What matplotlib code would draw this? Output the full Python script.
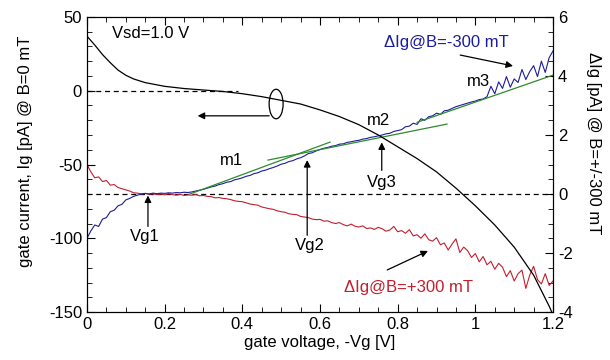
import numpy as np
import matplotlib
matplotlib.use("Agg")
import matplotlib.pyplot as plt
from matplotlib.patches import Ellipse
from matplotlib.ticker import MultipleLocator, FuncFormatter

plt.rcParams["font.family"] = ["Liberation Sans", "DejaVu Sans"]
plt.rcParams["axes.unicode_minus"] = False

# ── data ──────────────────────────────────────────────────────────────────────
# gate current at B = 0 (left axis, pA)
vg_b0 = [0.00, 0.02, 0.04, 0.06, 0.08, 0.10, 0.12, 0.15, 0.20, 0.25, 0.30, 0.35,
         0.40, 0.45, 0.50, 0.55, 0.60, 0.65, 0.70, 0.75, 0.80, 0.85, 0.90, 0.95,
         1.00, 1.05, 1.10, 1.15, 1.19, 1.20]
ig_b0 = [37.0, 31.0, 24.5, 19.0, 14.0, 10.5, 8.0, 5.5, 3.0, 1.5, 0.5, -0.5,
         -2.0, -4.0, -6.5, -9.0, -13.0, -17.5, -23.0, -30.0, -38.0, -46.0, -55.0, -66.0,
         -78.0, -91.0, -106.0, -125.0, -146.0, -152.0]

# delta Ig (right axis, pA), sampled every 10 mV
vg = np.round(np.arange(0, 121) * 0.01, 2)
d_minus = [
    -1.50, -1.25, -1.05, -1.10, -0.85, -0.80, -0.60, -0.55, -0.40, -0.35,
    -0.20, -0.15, -0.08, -0.04, 0.00, 0.02, 0.00, 0.03, 0.01, 0.03,
    0.02, 0.04, 0.03, 0.05, 0.04, 0.06, 0.05, 0.07, 0.10, 0.13,
    0.16, 0.20, 0.24, 0.27, 0.32, 0.35, 0.40, 0.42, 0.48, 0.51,
    0.55, 0.60, 0.63, 0.69, 0.72, 0.78, 0.81, 0.86, 0.90, 0.95,
    1.01, 1.04, 1.10, 1.13, 1.19, 1.23, 1.29, 1.37, 1.40, 1.46,
    1.51, 1.55, 1.58, 1.62, 1.64, 1.69, 1.70, 1.75, 1.77, 1.80,
    1.82, 1.86, 1.88, 1.92, 1.94, 1.97, 2.00, 2.04, 2.06, 2.12,
    2.15, 2.18, 2.28, 2.30, 2.40, 2.36, 2.55, 2.50, 2.62, 2.65,
    2.74, 2.70, 2.82, 2.84, 2.90, 2.96, 3.00, 3.04, 3.08, 3.12,
    3.15, 3.20, 3.22, 3.30, 3.65, 3.40, 3.80, 3.58, 3.98, 3.62,
    3.90, 3.78, 4.22, 3.88, 4.15, 4.35, 3.98, 4.50, 4.12, 4.62,
    4.85,
]
d_plus = [
    1.00, 0.75, 0.55, 0.58, 0.42, 0.46, 0.30, 0.32, 0.22, 0.18,
    0.14, 0.10, 0.04, 0.03, 0.00, 0.02, -0.01, 0.01, -0.02, 0.00,
    -0.03, 0.01, -0.02, -0.04, -0.01, -0.05, -0.03, -0.04, -0.02, -0.06,
    -0.05, -0.08, -0.09, -0.13, -0.12, -0.15, -0.16, -0.19, -0.23, -0.25,
    -0.26, -0.30, -0.34, -0.36, -0.38, -0.44, -0.47, -0.50, -0.52, -0.57,
    -0.60, -0.62, -0.67, -0.69, -0.70, -0.76, -0.78, -0.80, -0.85, -0.87,
    -0.86, -0.92, -0.91, -0.97, -1.00, -0.97, -1.04, -1.08, -1.02, -1.09,
    -1.12, -1.08, -1.17, -1.15, -1.20, -1.13, -1.18, -1.26, -1.22, -1.10,
    -1.28, -1.24, -1.33, -1.21, -1.42, -1.38, -1.50, -1.35, -1.55, -1.60,
    -1.48, -1.72, -1.66, -1.90, -1.70, -1.52, -1.98, -1.80, -1.92, -2.15,
    -2.02, -2.30, -2.12, -2.40, -2.28, -2.55, -2.35, -2.48, -2.80, -2.60,
    -2.95, -2.70, -2.58, -3.20, -2.75, -2.45, -2.90, -3.05, -2.70, -3.10,
    -2.95,
]

# linear fits m1, m2, m3 (right axis)
fit_x = {"m1": [0.265, 0.626], "m2": [0.466, 0.927], "m3": [0.85, 1.20]}
fit_y = {"m1": [0.00, 1.76], "m2": [1.15, 2.37], "m3": [2.43, 4.03]}

BLUE = "#1c1c9c"
RED = "#c41e2e"
GREEN = "#2e8b2e"

# ── figure ────────────────────────────────────────────────────────────────────
fig = plt.figure(figsize=(6.1, 3.6), dpi=100)
ax = fig.add_axes([0.1426, 0.1333, 0.7640, 0.8195])
ax2 = ax.twinx()

ax.plot(vg_b0, ig_b0, color="k", lw=0.9)
ax.plot([0, 0.39], [0, 0], color="k", lw=0.9, ls=(0, (4, 3)))

ax2.axhline(0, color="k", lw=0.9, ls=(0, (4, 3)))
ax2.plot(vg, d_plus, color=RED, lw=0.8)
ax2.plot(vg, d_minus, color=BLUE, lw=0.8)
for k in fit_x:
    ax2.plot(fit_x[k], fit_y[k], color=GREEN, lw=0.9)

ax.set_xlim(0, 1.2)
ax.set_ylim(-150, 50)
ax2.set_ylim(-4, 6)

fmt = FuncFormatter(lambda v, p: f"{v:g}")
ax.xaxis.set_major_locator(MultipleLocator(0.2))
ax.xaxis.set_minor_locator(MultipleLocator(0.05))
ax.xaxis.set_major_formatter(fmt)
ax.yaxis.set_major_locator(MultipleLocator(50))
ax.yaxis.set_minor_locator(MultipleLocator(10))
ax2.yaxis.set_major_locator(MultipleLocator(2))
ax2.yaxis.set_minor_locator(MultipleLocator(0.5))
ax2.yaxis.set_major_formatter(fmt)

ax.tick_params(which="both", direction="in", top=True, right=False, labelsize=12)
ax.tick_params(which="major", length=6)
ax.tick_params(which="minor", length=3.5)
ax2.tick_params(which="both", direction="in", labelsize=12)
ax2.tick_params(which="major", length=6)
ax2.tick_params(which="minor", length=3.5)

ax.set_xlabel("gate voltage, -Vg [V]", fontsize=12, labelpad=2)
ax.set_ylabel("gate current, Ig [pA] @ B=0 mT", fontsize=12, va="center")
ax.yaxis.set_label_coords(-0.131, 0.546)
ax2.set_ylabel("ΔIg [pA] @ B=+/-300 mT", fontsize=12, rotation=270, va="center")
ax2.yaxis.set_label_coords(1.086, 0.573)

# ── annotations ───────────────────────────────────────────────────────────────
arrow = dict(arrowstyle="-|>", color="k", lw=0.9, mutation_scale=10, shrinkA=0, shrinkB=0)

ax.text(0.064, 39, "Vsd=1.0 V", fontsize=12, va="center")
ax.add_patch(Ellipse((0.487, -9), 0.036, 20, fill=False, color="k", lw=0.9))
ax.annotate("", xy=(0.285, -17), xytext=(0.469, -17), arrowprops=arrow)

ax.text(0.373, -47, "m1", fontsize=12, ha="center", va="center")
ax.text(0.75, -20.5, "m2", fontsize=12, ha="center", va="center")
ax.text(1.007, 6, "m3", fontsize=12, ha="center", va="center")

ax.annotate("", xy=(0.157, -71), xytext=(0.157, -92), arrowprops=arrow)
ax.text(0.149, -99, "Vg1", fontsize=12, ha="center", va="center")
ax.annotate("", xy=(0.567, -47), xytext=(0.567, -98), arrowprops=arrow)
ax.text(0.574, -105, "Vg2", fontsize=12, ha="center", va="center")
ax.annotate("", xy=(0.759, -35), xytext=(0.759, -54), arrowprops=arrow)
ax.text(0.76, -62.5, "Vg3", fontsize=12, ha="center", va="center")

ax.text(0.925, 32.4, "ΔIg@B=-300 mT", fontsize=12, color=BLUE, ha="center", va="center")
ax.annotate("", xy=(1.097, 16.8), xytext=(0.961, 24.2), arrowprops=arrow)
ax.text(0.829, -133.7, "ΔIg@B=+300 mT", fontsize=12, color=RED, ha="center", va="center")
ax.annotate("", xy=(0.878, -108.6), xytext=(0.773, -121.5), arrowprops=arrow)

ax.set_zorder(ax2.get_zorder() + 1)
ax.patch.set_visible(False)

fig.savefig("out.png", dpi=100)
